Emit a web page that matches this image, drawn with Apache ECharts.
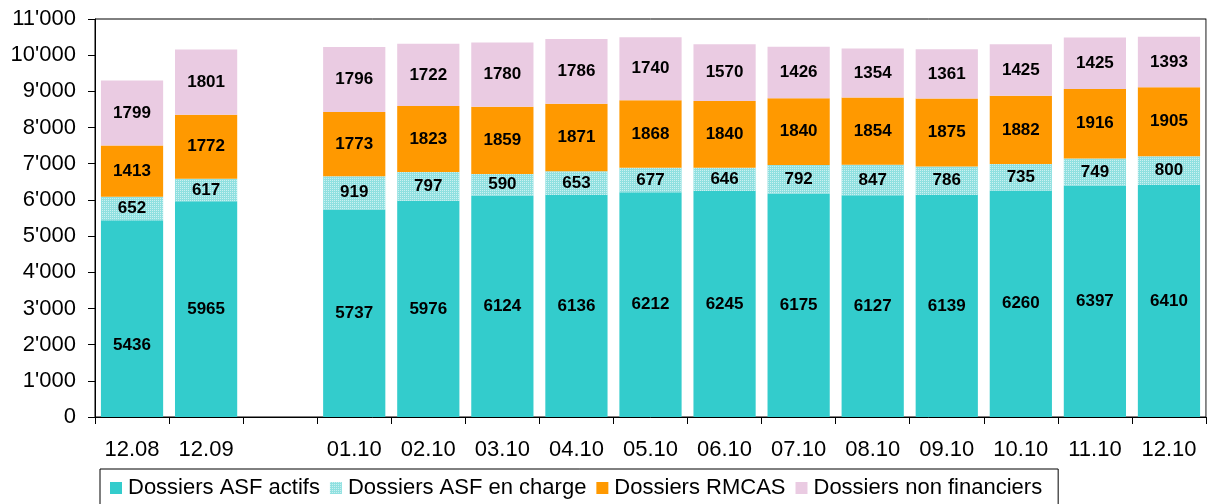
<!DOCTYPE html>
<html><head><meta charset="utf-8">
<script src="https://cdn.jsdelivr.net/npm/echarts@6/dist/echarts.min.js"></script>
<style>html,body{margin:0;padding:0;background:#fff}#c{width:1210px;height:504px}</style>
</head><body><div id="c"></div>
<script>
const categories = ['12.08','12.09','','01.10','02.10','03.10','04.10','05.10','06.10','07.10','08.10','09.10','10.10','11.10','12.10'];
const asfActifs = [5436,5965,'-',5737,5976,6124,6136,6212,6245,6175,6127,6139,6260,6397,6410];
const asfEnCharge = [652,617,'-',919,797,590,653,677,646,792,847,786,735,749,800];
const rmcas = [1413,1772,'-',1773,1823,1859,1871,1868,1840,1840,1854,1875,1882,1916,1905];
const nonFinanciers = [1799,1801,'-',1796,1722,1780,1786,1740,1570,1426,1354,1361,1425,1425,1393];
const seriesNames = ['Dossiers ASF actifs','Dossiers ASF en charge','Dossiers RMCAS','Dossiers non financiers'];

const font = 'Arial, "Liberation Sans", sans-serif';
const lbl = {show:true, position:'inside', color:'#000', fontWeight:'bold', fontSize:17, fontFamily:font};
function mk(name, data, itemStyle){
  return {name, type:'bar', stack:'s', data, barCategoryGap:'16%', itemStyle, label:lbl, emphasis:{disabled:true}};
}
// first bar's bottom label sits lower in the original
const asfActifsData = asfActifs.map((v,i)=> i===0 ? {value:v, label:{offset:[0,27]}} : v);

const chart = echarts.init(document.getElementById('c'), null, {renderer:'canvas'});
chart.setOption({
  animation:false,
  grid:{left:95, right:4, top:19, bottom:87, show:true, borderColor:'#000', borderWidth:1},
  legend:{left:100, top:469, orient:'horizontal', data:seriesNames,
    borderColor:'#000', borderWidth:1, borderRadius:0, padding:[8,16,8,10], itemGap:10,
    itemWidth:12, itemHeight:12, icon:'rect',
    textStyle:{fontSize:22, fontFamily:font, color:'#000', padding:[0,0,0,1]}},
  xAxis:[{type:'category', data:categories,
    axisLine:{lineStyle:{color:'#000'}}, axisTick:{show:true, length:7, lineStyle:{color:'#000'}},
    axisLabel:{fontSize:22, fontFamily:font, color:'#000', margin:22, interval:0}}],
  yAxis:[{type:'value', min:0, max:11000, interval:1000,
    axisLine:{show:true, lineStyle:{color:'#000'}}, axisTick:{show:true, length:7, lineStyle:{color:'#000'}},
    splitLine:{show:false},
    axisLabel:{fontSize:22, fontFamily:font, color:'#000', margin:19,
      formatter:v=>String(v).replace(/\B(?=(\d{3})+(?!\d))/g,"'")}},
    {type:'value', position:'right', min:0, max:11000, axisLine:{show:true, lineStyle:{color:'#999'}}, axisTick:{show:false}, axisLabel:{show:false}, splitLine:{show:false}}
  ],
  series:[
    mk(seriesNames[0], asfActifsData, {color:'#33CCCC'}),
    mk(seriesNames[1], asfEnCharge, {color:'#8FE0E0', decal:{symbol:'rect', symbolSize:1, dashArrayX:[1,1], dashArrayY:[1,1], color:'rgba(255,255,255,0.55)', rotation:0}}),
    mk(seriesNames[2], rmcas, {color:'#FF9900'}),
    mk(seriesNames[3], nonFinanciers, {color:'#EACBE2'})
  ]
});
</script></body></html>
